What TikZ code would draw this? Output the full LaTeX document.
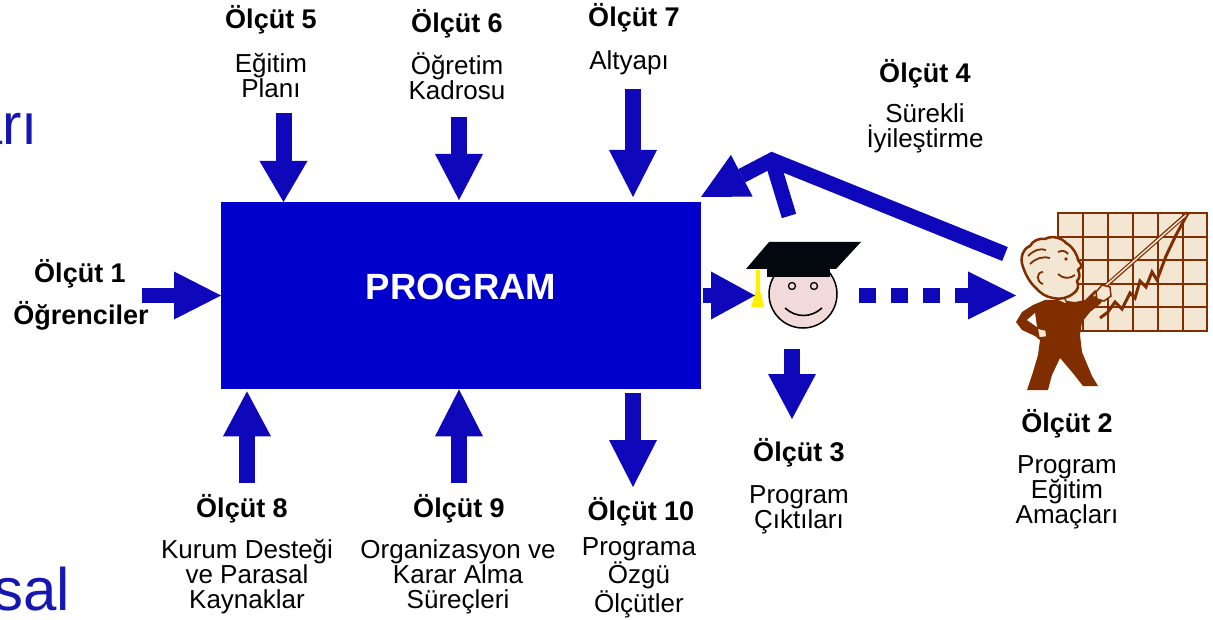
\documentclass[tikz,border=0pt]{standalone}
\usepackage{fontspec}
\setmainfont{Liberation Sans}
\usetikzlibrary{arrows.meta}
\definecolor{boxblue}{RGB}{0,0,204}
\definecolor{ablue}{RGB}{14,8,186}
\definecolor{tblue}{RGB}{22,22,178}
\definecolor{brownc}{RGB}{128,45,0}
\definecolor{cream}{RGB}{243,231,212}
\definecolor{facepink}{RGB}{242,218,218}
\definecolor{tasselc}{RGB}{255,240,0}
\definecolor{capblack}{RGB}{3,8,14}
\begin{document}
\begin{tikzpicture}[x=1pt,y=-1pt,
  boldlbl/.style={font=\fontsize{27}{27}\selectfont\bfseries, inner sep=0pt, anchor=base},
  desc/.style={font=\fontsize{26}{25}\selectfont, align=center, inner sep=0pt, anchor=base},
  barrow/.style={draw=ablue, line width=16pt, -{Triangle[length=#1, width=48pt, line width=0pt]}},
  barrow/.default=45pt,
  brownline/.style={draw=brownc, line width=2.5pt}]
\useasboundingbox (0,0) rectangle (1213,620);

% cut-off slide title remnants
\node[font=\fontsize{58}{58}\selectfont, text=tblue, anchor=base east, inner sep=0pt] (t1) at (38,145) {arı};
\node[font=\fontsize{60}{60}\selectfont, text=tblue, anchor=base east, inner sep=0pt] (t2) at (70,610) {sal};

% central box
\node[fill=boxblue, minimum width=480pt, minimum height=187pt, inner sep=0pt, anchor=north west] (prog) at (221,202) {};
\node[font=\fontsize{36.5}{36.5}\selectfont\bfseries, text=white, anchor=base, inner sep=0pt] (progtxt) at (461,300) {PROGRAM};

% labels (base anchor = baseline of the last line)
\node[boldlbl] (b5) at (271,29) {Ölçüt 5};
\node[desc] (d5) at (271,98) {Eğitim\\Planı};
\node[boldlbl] (b6) at (457,33) {Ölçüt 6};
\node[desc] (d6) at (457,100) {Öğretim\\Kadrosu};
\node[boldlbl] (b7) at (634,27) {Ölçüt 7};
\node[desc] (d7) at (629,70) {Altyapı};
\node[boldlbl] (b4) at (925,83) {Ölçüt 4};
\node[desc] (d4) at (925,148) {Sürekli\\İyileştirme};
\node[boldlbl] (b1) at (80,283) {Ölçüt 1};
\node[boldlbl] (d1) at (81,325) {Öğrenciler};
\node[boldlbl] (b3) at (799,461) {Ölçüt 3};
\node[desc] (d3) at (799,528) {Program\\Çıktıları};
\node[boldlbl] (b2) at (1067,432) {Ölçüt 2};
\node[desc] (d2) at (1067,523) {Program\\Eğitim\\Amaçları};
\node[boldlbl] (b8) at (242,517) {Ölçüt 8};
\node[desc] (d8) at (247,608) {Kurum Desteği\\ve Parasal\\Kaynaklar};
\node[boldlbl] (b9) at (459,517) {Ölçüt 9};
\node[desc] (d9) at (458,608) {Organizasyon ve\\Karar Alma\\Süreçleri};
\node[boldlbl] (b10) at (641,520) {Ölçüt 10};
\node[desc] (d10) at (639,612) {Programa\\Özgü\\Ölçütler};

% graduate
\node[circle, draw=black, line width=1.5pt, fill=facepink, minimum size=68pt, inner sep=0pt] (grad) at (803,294) {};
\fill[capblack] (767,266) rectangle (830,277);
\fill[capblack] (769,242) -- (861,242) -- (836,269) -- (746,269) -- cycle;
\fill[tasselc] (756,270) -- (760,270) -- (760,290) -- (764,307) -- (751,307) -- (756,290) -- cycle;
\draw[black, line width=1.3pt, fill=facepink] (792,286) circle (3.5pt) (814,286) circle (3.5pt);
\draw[black, line width=1.6pt] (785,308) .. controls (796,318) and (811,318) .. (822,308);

% chart
\fill[cream] (1058,213) rectangle (1207,331);
\foreach \x in {1083,1108,1133,1158,1183} \draw[brownline] (\x,213) -- (\x,331);
\foreach \y in {237,260,284,307} \draw[brownline] (1058,\y) -- (1207,\y);
\draw[brownline] (1058,213) rectangle (1207,331);
\draw[brownc, line width=3pt, line join=miter] (1100,318) -- (1108,312) -- (1115,302) -- (1122,309) -- (1130,293) -- (1135,298) -- (1140,281) -- (1146,287) -- (1152,272) -- (1157,280) -- (1166,256) -- (1176,235) -- (1188,213);

% professor
\fill[brownc] (1060,300) -- (1045,300) -- (1033,305) -- (1022,312) -- (1016,322) -- (1022,330) -- (1035,336) -- (1040,340) -- (1038,355) -- (1033,372) -- (1027,390) -- (1048,390) -- (1052,375) -- (1060,358) -- (1072,372) -- (1083,386) -- (1098,386) -- (1092,376) -- (1082,352) -- (1080,335) -- (1082,322) -- (1090,312) -- (1100,304) -- (1105,298) -- (1095,290) -- (1085,300) -- (1075,302) -- cycle;
\fill[white] (1027,320) -- (1035,313) -- (1037,327) -- cycle;
\draw[brownc, line width=1.5pt, fill=cream] (1037,328) -- (1046,330) -- (1047,337) -- (1039,338) -- cycle;
\draw[brownc, line width=1.5pt, fill=cream] (1056,300) -- (1064,297) -- (1068,305) -- cycle;
\draw[brownc, line width=4pt] (1092,298) -- (1188,213);
\draw[cream, line width=1.5pt] (1094,296) -- (1186,215);
\draw[brownc, line width=1.5pt, fill=cream] (1096,292) -- (1102,285) -- (1110,287) -- (1111,296) -- (1104,301) -- (1097,299) -- cycle;
\draw[brownc, line width=2.5pt, fill=cream] (1023,267) .. controls (1019,257) and (1024,248) .. (1030,246) .. controls (1033,240) and (1040,238) .. (1045,239) .. controls (1052,235) and (1062,238) .. (1066,243) .. controls (1072,246) and (1077,254) .. (1078,260) -- (1082,266) -- (1078,270) .. controls (1080,274) and (1080,278) .. (1077,281) .. controls (1079,286) and (1078,290) .. (1074,293) .. controls (1068,298) and (1060,300) .. (1053,298) .. controls (1046,297) and (1040,293) .. (1036,288) .. controls (1031,284) and (1026,276) .. (1023,267) -- cycle;
\draw[brownc, line width=1.8pt] (1043,284) .. controls (1036,282) and (1036,272) .. (1043,272);
\draw[brownc, line width=1.8pt] (1028,256) .. controls (1034,250) and (1040,248) .. (1046,250);
\draw[brownc, line width=1.8pt] (1030,264) .. controls (1036,258) and (1044,256) .. (1050,258);
\draw[brownc, line width=1.8pt] (1058,252) .. controls (1062,250) and (1066,251) .. (1068,254);
\fill[brownc] (1066,259) circle (1.8pt);
\draw[brownc, line width=1.8pt] (1058,274) .. controls (1063,279) and (1070,279) .. (1075,275);

% arrows into / out of the box
\coordinate (a5) at (283.5,113);
\coordinate (a6) at (459,117);
\coordinate (a7) at (633,89);
\coordinate (a8) at (247,483);
\coordinate (a9) at (459,483);
\coordinate (a10) at (633,393);
\coordinate (a1) at (142,295.5);
\draw[barrow=41pt] (a5) -- (a5 |- prog.north);
\draw[barrow=46pt] (a6) -- ([yshift=2pt]a6 |- prog.north);
\draw[barrow=47pt] (a7) -- ([yshift=5pt]a7 |- prog.north);
\draw[barrow=45pt] (a8) -- ([yshift=-2pt]a8 |- prog.south);
\draw[barrow=47pt] (a9) -- (a9 |- prog.south);
\draw[barrow=47pt] (a10) -- (633,487);
\draw[barrow=47pt, line width=15pt] (a1) -- (a1 -| prog.west);

% program -> graduate -> professor
\coordinate (gt) at (755,295.5);
\coordinate (pt) at (1016,295.5);
\coordinate (gd) at (792,419);
\draw[barrow=44pt, line width=15pt] ([xshift=2pt]prog.east |- gt) -- (gt);
\draw[barrow=48pt, line width=15pt, dash pattern=on 16.5pt off 15.5pt] (859,295.5) -- (pt);
\draw[barrow=45pt] (grad.south -| gd) ++(0,20) -- (gd);

% feedback (continuous improvement)
\coordinate (fa) at (772,160);
\coordinate (fp) at (1005,254);
\coordinate (fq) at (789,216);
\coordinate (ft) at (701,197);
\draw[draw=ablue, line width=15pt, line join=miter, -{Triangle[length=46pt, width=47pt, line width=0pt]}] (fp) -- (fa) -- (ft);
\draw[ablue, line width=15pt] (fa) -- (fq);
\end{tikzpicture}
\end{document}
